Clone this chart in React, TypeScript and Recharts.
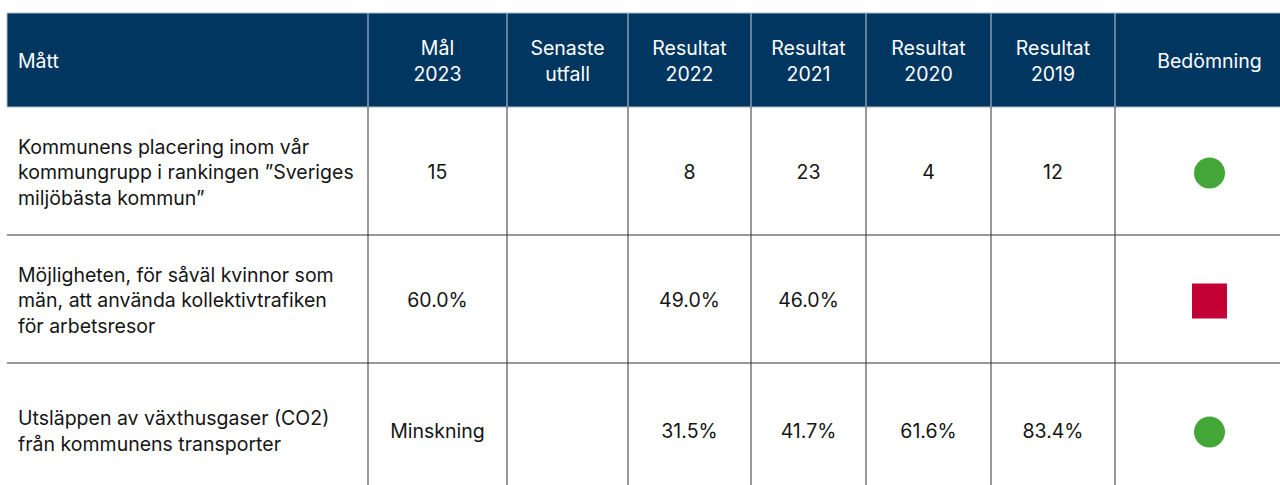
import { ScatterChart, Scatter, XAxis, YAxis, ReferenceArea, ReferenceLine } from 'recharts';

// table content
const headers = [
  ['Mått'],
  ['Mål', '2023'],
  ['Senaste', 'utfall'],
  ['Resultat', '2022'],
  ['Resultat', '2021'],
  ['Resultat', '2020'],
  ['Resultat', '2019'],
  ['Bedömning'],
];
const measures = [
  ['Kommunens placering inom vår', 'kommungrupp i rankingen ”Sveriges', 'miljöbästa kommun”'],
  ['Möjligheten, för såväl kvinnor som', 'män, att använda kollektivtrafiken', 'för arbetsresor'],
  ['Utsläppen av växthusgaser (CO2)', 'från kommunens transporter'],
];
const goal2023 = ['15', '60.0%', 'Minskning'];
const latest = ['', '', ''];
const result2022 = ['8', '49.0%', '31.5%'];
const result2021 = ['23', '46.0%', '41.7%'];
const result2020 = ['4', '', '61.6%'];
const result2019 = ['12', '', '83.4%'];
const assessment = ['good', 'bad', 'good'];

// layout
const W = 1280;
const H = 485;
const colEdges = [7, 368, 507, 628, 751, 866, 991, 1115, 1304];
const rowEdges = [13, 107, 235, 363, 497];
const NAVY = '#00365f';
const FONT = 'Inter, "Noto Sans", sans-serif';

const colMid = (c: number) => (colEdges[c] + colEdges[c + 1]) / 2;
const rowMid = (r: number) => (rowEdges[r] + rowEdges[r + 1]) / 2;

type Cell = { x: number; y: number; lines: string[]; anchor: 'start' | 'middle'; header: boolean };

const cells: Cell[] = [];
headers.forEach((h, c) => {
  cells.push({ x: c === 0 ? colEdges[0] + 11 : colMid(c), y: rowMid(0), lines: h, anchor: c === 0 ? 'start' : 'middle', header: true });
});
const valueCols = [goal2023, latest, result2022, result2021, result2020, result2019];
measures.forEach((m, r) => {
  cells.push({ x: colEdges[0] + 11, y: rowMid(r + 1), lines: m, anchor: 'start', header: false });
  valueCols.forEach((col, i) => {
    if (col[r]) cells.push({ x: colMid(i + 1), y: rowMid(r + 1), lines: [col[r]], anchor: 'middle', header: false });
  });
});

const markers = assessment.map((a, r) => ({ x: colMid(7), y: rowMid(r + 1) + 2, status: a }));

const TextCell = (props: any) => {
  const { cx, cy, payload } = props;
  const lh = payload.header ? 26 : 25.5;
  const top = cy - ((payload.lines.length - 1) * lh) / 2;
  return (
    <text
      textAnchor={payload.anchor}
      fontFamily={FONT}
      fontSize={19.5}
      fontWeight={400}
      fill={payload.header ? '#ffffff' : '#151515'}
    >
      {payload.lines.map((l: string, i: number) => (
        <tspan key={i} x={cx} y={top + i * lh + 8}>
          {l}
        </tspan>
      ))}
    </text>
  );
};

const Marker = (props: any) => {
  const { cx, cy, payload } = props;
  if (payload.status === 'good') return <circle cx={cx} cy={cy} r={15.5} fill="#43a636" />;
  return <rect x={cx - 17.5} y={cy - 17.5} width={35} height={35} fill="#c20034" />;
};

export default function App() {
  return (
    <div style={{ position: 'absolute', left: 0, top: 0, width: W, height: H, background: '#fff' }}>
      <ScatterChart width={W} height={H} margin={{ top: 0, right: 0, bottom: 0, left: 0 }}>
        <XAxis type="number" dataKey="x" domain={[0, W]} hide />
        <YAxis type="number" dataKey="y" domain={[0, H]} reversed hide />
        <ReferenceArea
          x1={colEdges[0]}
          x2={colEdges[colEdges.length - 1]}
          y1={rowEdges[0]}
          y2={rowEdges[1]}
          fill={NAVY}
          fillOpacity={1}
          stroke="#a9bccd"
          strokeWidth={1}
          ifOverflow="hidden"
        />
        {colEdges.slice(1, -1).map((x) => (
          <ReferenceLine
            key={'h' + x}
            segment={[{ x, y: rowEdges[0] }, { x, y: rowEdges[1] }]}
            stroke="#8a9db0"
            strokeWidth={1.5}
            ifOverflow="hidden"
          />
        ))}
        {colEdges.slice(1, -1).map((x) => (
          <ReferenceLine
            key={'b' + x}
            segment={[{ x, y: rowEdges[1] }, { x, y: rowEdges[rowEdges.length - 1] }]}
            stroke="#333333"
            strokeWidth={1}
            ifOverflow="hidden"
          />
        ))}
        {rowEdges.slice(2, -1).map((y) => (
          <ReferenceLine
            key={'r' + y}
            segment={[{ x: colEdges[0], y }, { x: colEdges[colEdges.length - 1], y }]}
            stroke="#333333"
            strokeWidth={1}
            ifOverflow="hidden"
          />
        ))}
        <Scatter data={cells} shape={TextCell} isAnimationActive={false} />
        <Scatter data={markers} shape={Marker} isAnimationActive={false} />
      </ScatterChart>
    </div>
  );
}
